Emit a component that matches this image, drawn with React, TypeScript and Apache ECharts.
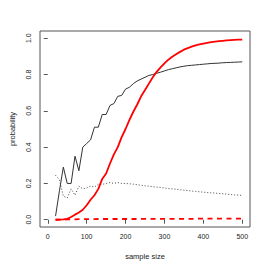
import React, { useEffect, useRef } from "react";
import * as echarts from "echarts";

const sampleSizes = [20,30,40,50,60,70,80,90,100,110,120,130,140,150,160,170,180,190,200,210,220,230,240,250,260,270,280,290,300,310,320,330,340,350,360,370,380,390,400,410,420,430,440,450,460,470,480,490,500];

const blackSolid = [0.02,0.16,0.29,0.20,0.20,0.35,0.27,0.40,0.42,0.44,0.51,0.51,0.58,0.58,0.63,0.64,0.68,0.685,0.72,0.73,0.75,0.765,0.775,0.785,0.795,0.80,0.807,0.813,0.82,0.827,0.832,0.837,0.842,0.846,0.849,0.851,0.853,0.855,0.857,0.859,0.861,0.862,0.863,0.865,0.866,0.867,0.868,0.869,0.870];

const blackDotted = [0.245,0.22,0.13,0.12,0.17,0.135,0.185,0.17,0.175,0.185,0.18,0.195,0.195,0.2,0.205,0.2,0.205,0.2,0.2,0.198,0.196,0.193,0.19,0.187,0.185,0.182,0.18,0.178,0.175,0.172,0.17,0.168,0.165,0.163,0.161,0.158,0.156,0.154,0.152,0.15,0.148,0.147,0.145,0.143,0.141,0.139,0.137,0.136,0.134];

const redSolid = [0.0,0.001,0.002,0.005,0.015,0.028,0.04,0.055,0.08,0.11,0.135,0.17,0.225,0.255,0.31,0.36,0.4,0.455,0.5,0.55,0.595,0.635,0.68,0.715,0.75,0.785,0.815,0.84,0.862,0.882,0.898,0.912,0.925,0.937,0.946,0.954,0.961,0.966,0.971,0.975,0.979,0.982,0.984,0.986,0.988,0.99,0.991,0.992,0.993];

const redDashed = [0.0,0.001,0.001,0.002,0.002,0.002,0.003,0.003,0.003,0.003,0.003,0.004,0.004,0.004,0.004,0.004,0.004,0.004,0.004,0.004,0.004,0.004,0.005,0.005,0.005,0.005,0.005,0.005,0.005,0.005,0.005,0.005,0.005,0.005,0.005,0.005,0.005,0.006,0.006,0.006,0.006,0.006,0.006,0.006,0.006,0.006,0.006,0.006,0.006];

const xTicks = [0, 100, 200, 300, 400, 500];
const yTicks = [0, 0.2, 0.4, 0.6, 0.8, 1.0];

const pairs = (ys: number[]) => sampleSizes.map((x, i) => [x, ys[i]]);

export default function App() {
  const ref = useRef<HTMLDivElement>(null);
  useEffect(() => {
    if (!ref.current) return;
    const chart = echarts.init(ref.current, null, { renderer: "svg" });
    const font = "Liberation Sans";
    chart.setOption({
      animation: false,
      backgroundColor: "#ffffff",
      grid: {
        left: 31,
        right: 16,
        top: 31,
        bottom: 39,
        show: true,
        borderColor: "#555",
        borderWidth: 1,
        backgroundColor: "transparent",
      },
      xAxis: {
        type: "value",
        min: -20,
        max: 520,
        name: "sample size",
        nameLocation: "middle",
        nameGap: 25,
        nameTextStyle: { fontFamily: font, fontSize: 7.5, color: "#222" },
        axisLine: { show: false },
        axisTick: { show: true, inside: false, length: 4, customValues: xTicks, lineStyle: { color: "#555" } },
        axisLabel: {
          customValues: xTicks,
          margin: 6,
          fontFamily: font,
          fontSize: 7,
          color: "#222",
        },
        splitLine: { show: false },
      },
      yAxis: {
        type: "value",
        min: -0.04,
        max: 1.04,
        name: "probability",
        nameLocation: "middle",
        nameGap: 24,
        nameRotate: 90,
        nameTextStyle: { fontFamily: font, fontSize: 7.5, color: "#222" },
        axisLine: { show: false },
        axisTick: { show: true, inside: false, length: 4, customValues: yTicks, lineStyle: { color: "#555" } },
        axisLabel: {
          customValues: yTicks,
          rotate: 90,
          margin: 8,
          fontFamily: font,
          fontSize: 7,
          color: "#222",
          formatter: (v: number) => v.toFixed(1),
        },
        splitLine: { show: false },
      },
      series: [
        {
          type: "line",
          data: pairs(blackSolid),
          showSymbol: false,
          lineStyle: { color: "#333", width: 1 },
        },
        {
          type: "line",
          data: pairs(blackDotted),
          showSymbol: false,
          lineStyle: { color: "#444", width: 1, type: [1, 2] },
        },
        {
          type: "line",
          data: pairs(redSolid),
          showSymbol: false,
          lineStyle: { color: "#ff0000", width: 1.8 },
        },
        {
          type: "line",
          data: pairs(redDashed),
          showSymbol: false,
          lineStyle: { color: "#ff0000", width: 1.8, type: [5, 4.5] },
        },
      ],
    });
    return () => chart.dispose();
  }, []);
  return (
    <div
      ref={ref}
      style={{ position: "fixed", left: 0, top: 0, width: 266, height: 266 }}
    />
  );
}
